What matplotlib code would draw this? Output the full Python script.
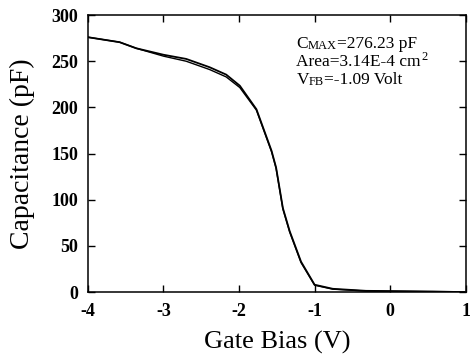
import matplotlib.pyplot as plt

# C-V sweep
bias_fwd = [-4.0, -3.58, -3.36, -3.0, -2.7, -2.39, -2.17, -1.99, -1.77, -1.57,
            -1.51, -1.42, -1.33, -1.18, -1.0, -0.76, -0.32, 0.56, 0.98]
cap_fwd = [276, 270.6, 264, 257, 252.5, 243.5, 235.5, 223.5, 198, 153,
           135, 91, 66, 33, 8, 3.6, 1.4, 0.7, 0]
bias_rev = [-4.0, -3.58, -3.36, -3.0, -2.7, -2.39, -2.17, -1.99, -1.77, -1.57,
            -1.51, -1.42, -1.33, -1.18, -1.0, -0.76, -0.32, 0.56, 0.98]
cap_rev = [276, 270.6, 264, 255.5, 250, 241, 233, 221.5, 197, 152,
           134, 90, 65, 32, 7.5, 3.2, 1.2, 0.4, 0]

xticks = [-4, -3, -2, -1, 0, 1]
yticks = [0, 50, 100, 150, 200, 250, 300]

serif = ['Liberation Serif', 'DejaVu Serif']
plt.rcParams['axes.unicode_minus'] = False

fig = plt.figure(figsize=(4.7, 3.58), dpi=100)
ax = fig.add_axes([0.187, 0.184, 0.804, 0.774])
ax.plot(bias_fwd, cap_fwd, color='black', lw=1.3)
ax.plot(bias_rev, cap_rev, color='black', lw=1.0)

ax.set_xlim(-4, 1)
ax.set_ylim(0, 300)
ax.set_xticks(xticks)
ax.set_yticks(yticks)
ax.tick_params(direction='in', length=5, width=1, top=True, right=True,
               labelsize=13)
ax.tick_params(axis='x', pad=8)
ax.tick_params(axis='y', pad=7)
for lbl in ax.get_xticklabels() + ax.get_yticklabels():
    lbl.set_family(serif)
    lbl.set_fontweight('bold')
for s in ax.spines.values():
    s.set_linewidth(1.1)

ax.set_xlabel('Gate Bias (V)', family=serif, fontsize=19, labelpad=8)
ax.set_ylabel('Capacitance (pF)', family=serif, fontsize=20, labelpad=12)

# annotation with small-caps subscripts
fs = 12.5
t = ax.text(-1.24, 264, 'C', family=serif, fontsize=fs, va='baseline')
t = ax.annotate('MAX', xy=(1, 0), xycoords=t, family=serif, fontsize=fs * 0.72,
                va='bottom')
ax.annotate('=276.23 pF', xy=(1, 0), xycoords=t, family=serif, fontsize=fs,
            va='bottom')
t = ax.text(-1.24, 245, 'Area=3.14E-4 cm', family=serif, fontsize=fs, va='baseline')
ax.annotate('2', xy=(1, 0.42), xycoords=t, family=serif, fontsize=fs * 0.72,
            va='bottom')
t = ax.text(-1.24, 225, 'V', family=serif, fontsize=fs, va='baseline')
t = ax.annotate('FB', xy=(1, 0), xycoords=t, family=serif, fontsize=fs * 0.72,
                va='bottom')
ax.annotate('=-1.09 Volt', xy=(1, 0), xycoords=t, family=serif, fontsize=fs,
            va='bottom')

fig.savefig('out.png', dpi=100)
